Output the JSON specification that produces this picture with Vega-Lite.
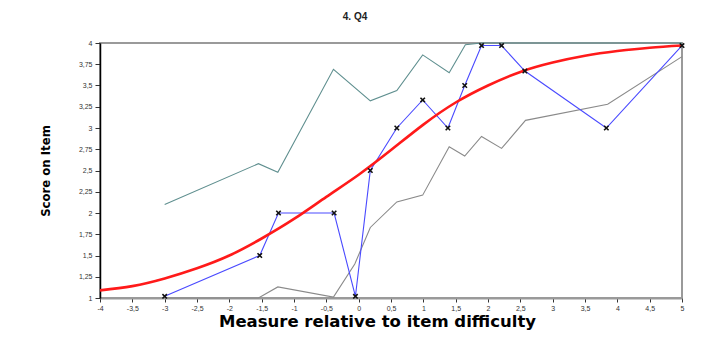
{
  "$schema": "https://vega.github.io/schema/vega-lite/v6.json",
  "autosize": {"type": "none"},
  "padding": {"left": 100, "top": 43, "right": 27, "bottom": 43},
  "width": 582,
  "height": 255,
  "background": "white",
  "title": {"text": "4. Q4", "font": "Liberation Sans", "fontSize": 10, "fontWeight": "bold", "color": "#222", "anchor": "middle", "dx": -36, "offset": 17},
  "datasets": {
    "upper": [
      {"x": -3, "y": 2.10}, {"x": -1.55, "y": 2.58}, {"x": -1.25, "y": 2.48}, {"x": -0.39, "y": 3.69},
      {"x": 0.18, "y": 3.32}, {"x": 0.59, "y": 3.44}, {"x": 0.99, "y": 3.86}, {"x": 1.40, "y": 3.65},
      {"x": 1.65, "y": 3.98}, {"x": 1.90, "y": 4.0}, {"x": 2.21, "y": 4.0}, {"x": 2.57, "y": 4.0},
      {"x": 3.83, "y": 4.0}, {"x": 5.0, "y": 4.0}
    ],
    "lower": [
      {"x": -3, "y": 1.0}, {"x": -1.55, "y": 1.0}, {"x": -1.25, "y": 1.13}, {"x": -0.39, "y": 1.01},
      {"x": -0.06, "y": 1.40}, {"x": 0.18, "y": 1.83}, {"x": 0.59, "y": 2.13}, {"x": 0.99, "y": 2.21},
      {"x": 1.40, "y": 2.78}, {"x": 1.64, "y": 2.67}, {"x": 1.90, "y": 2.90}, {"x": 2.21, "y": 2.76},
      {"x": 2.58, "y": 3.09}, {"x": 3.85, "y": 3.28}, {"x": 5.0, "y": 3.84}
    ],
    "expected": [
      {"x": -4, "y": 1.09}, {"x": -3.5, "y": 1.14}, {"x": -3, "y": 1.23}, {"x": -2.5, "y": 1.35},
      {"x": -2, "y": 1.50}, {"x": -1.5, "y": 1.70}, {"x": -1, "y": 1.93}, {"x": -0.5, "y": 2.19},
      {"x": 0, "y": 2.45}, {"x": 0.5, "y": 2.74}, {"x": 1, "y": 3.04}, {"x": 1.5, "y": 3.30},
      {"x": 2, "y": 3.50}, {"x": 2.5, "y": 3.66}, {"x": 3, "y": 3.77}, {"x": 3.5, "y": 3.85},
      {"x": 4, "y": 3.905}, {"x": 4.5, "y": 3.945}, {"x": 5, "y": 3.97}
    ],
    "observed": [
      {"x": -3, "y": 1.02}, {"x": -1.53, "y": 1.5}, {"x": -1.24, "y": 2.0}, {"x": -0.38, "y": 2.0},
      {"x": -0.05, "y": 1.02}, {"x": 0.18, "y": 2.5}, {"x": 0.59, "y": 3.0}, {"x": 0.99, "y": 3.33},
      {"x": 1.38, "y": 3.0}, {"x": 1.64, "y": 3.5}, {"x": 1.90, "y": 3.97}, {"x": 2.21, "y": 3.97},
      {"x": 2.57, "y": 3.67}, {"x": 3.83, "y": 3.0}, {"x": 5.0, "y": 3.97}
    ]
  },
  "encoding": {
    "x": {
      "field": "x", "type": "quantitative",
      "scale": {"domain": [-4, 5], "nice": false, "zero": false},
      "axis": {
        "title": "Measure relative to item difficulty",
        "values": [-4, -3.5, -3, -2.5, -2, -1.5, -1, -0.5, 0, 0.5, 1, 1.5, 2, 2.5, 3, 3.5, 4, 4.5, 5],
        "labelExpr": "replace(toString(datum.value), '.', ',')",
        "grid": false,
        "domainColor": "#999", "domainWidth": 2,
        "tickColor": "#333", "tickSize": 4,
        "labelFont": "Liberation Sans", "labelFontSize": 7, "labelColor": "#333", "labelPadding": 2,
        "labelFlush": false, "labelOverlap": false,
        "titleFont": "DejaVu Sans", "titleFontSize": 16.5, "titleFontWeight": "bold", "titleColor": "#000",
        "titleX": 277, "titleY": 15, "titleAlign": "center", "titleBaseline": "top"
      }
    },
    "y": {
      "field": "y", "type": "quantitative",
      "scale": {"domain": [1, 4], "nice": false, "zero": false},
      "axis": {
        "title": "Score on Item",
        "values": [1, 1.25, 1.5, 1.75, 2, 2.25, 2.5, 2.75, 3, 3.25, 3.5, 3.75, 4],
        "labelExpr": "replace(toString(datum.value), '.', ',')",
        "grid": false,
        "domainColor": "#000", "domainWidth": 1.5,
        "tickColor": "#333", "tickSize": 5,
        "labelFont": "Liberation Sans", "labelFontSize": 7, "labelColor": "#333", "labelPadding": 3,
        "labelFlush": false, "labelOverlap": false,
        "titleFont": "DejaVu Sans Condensed, Liberation Sans, sans-serif", "titleFontSize": 13, "titleFontWeight": "bold", "titleColor": "#000",
        "titleX": -48, "titleY": 127.5, "titleAngle": -90, "titleAlign": "center", "titleBaseline": "bottom"
      }
    }
  },
  "layer": [
    {"data": {"name": "upper"}, "mark": {"type": "line", "color": "#5f8f8f", "strokeWidth": 1.1}},
    {"data": {"name": "lower"}, "mark": {"type": "line", "color": "#8a8a8a", "strokeWidth": 1.1}},
    {"data": {"name": "observed"}, "mark": {"type": "line", "color": "#4a4aff", "strokeWidth": 1.1}},
    {"data": {"name": "expected"}, "mark": {"type": "line", "color": "#ff1a1a", "strokeWidth": 2.6, "interpolate": "natural"}},
    {"data": {"name": "observed"}, "mark": {"type": "point", "shape": "M-1,-1L1,1M-1,1L1,-1", "size": 20, "filled": false, "stroke": "#111", "strokeWidth": 1.6, "opacity": 1}}
  ],
  "config": {
    "view": {"stroke": "#9a9a9a", "strokeWidth": 2}
  }
}
